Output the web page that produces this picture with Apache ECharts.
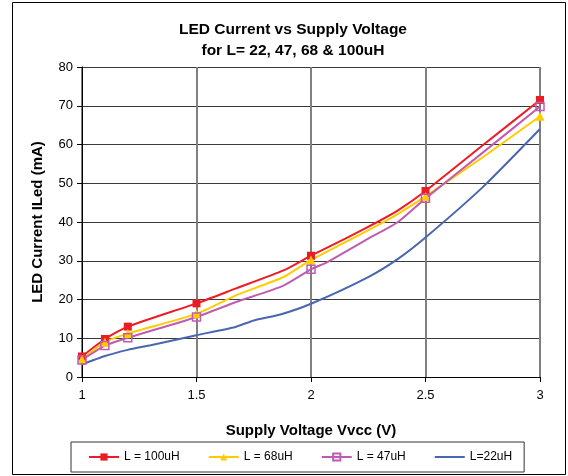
<!DOCTYPE html>
<html>
<head>
<meta charset="utf-8">
<script src="https://cdn.jsdelivr.net/npm/echarts@6/dist/echarts.min.js"></script>
<style>
  html, body { margin: 0; padding: 0; background: #fff; }
  #chart { width: 568px; height: 476px; }
</style>
</head>
<body>
<div id="chart"></div>
<script>
// values (V, mA)
const markerVolts = [1, 1.1, 1.2, 1.5, 2, 2.5, 3];

const volts100 = [1, 1.1, 1.2, 1.5, 1.67, 1.88, 2, 2.15, 2.29, 2.38, 2.5, 2.75, 3];
const ma100 = [5.3, 9.8, 13.0, 19.0, 22.8, 27.5, 31.3, 35.7, 40.0, 43.0, 48.0, 59.8, 71.5];

const volts68 = [1, 1.1, 1.2, 1.5, 1.67, 1.88, 2, 2.15, 2.29, 2.38, 2.5, 2.75, 3];
const ma68 = [4.6, 9.0, 11.2, 16.3, 21.0, 25.8, 30.2, 34.8, 39.1, 42.1, 46.6, 56.7, 67.3];

const volts47 = [1, 1.1, 1.2, 1.5, 1.67, 1.88, 2, 2.07, 2.25, 2.38, 2.5, 2.75, 3];
const ma47 = [4.4, 8.1, 10.1, 15.5, 19.3, 23.6, 27.8, 29.6, 35.7, 40.0, 46.1, 57.9, 69.8];

const volts22 = [1, 1.1, 1.2, 1.3, 1.4, 1.5, 1.67, 1.75, 1.87, 2, 2.25, 2.38, 2.5, 2.75, 3];
const ma22 = [3.2, 5.4, 7.0, 8.2, 9.5, 10.8, 12.9, 14.6, 16.2, 18.9, 25.8, 30.5, 36.0, 49.0, 64.0];

const seriesNames = ['L = 100uH', 'L = 68uH', 'L = 47uH', 'L=22uH'];

function points(volts, ma) {
    return volts.map((v, i) => {
        const item = { value: [v, ma[i]] };
        if (markerVolts.indexOf(v) < 0) item.symbol = 'none';
        return item;
    });
}

let chart = echarts.init(document.getElementById('chart'));

const font = 'Liberation Sans, Arial, sans-serif';

const option = {
    animation: false,
    backgroundColor: '#fff',
    textStyle: { fontFamily: font },
    title: {
        text: 'LED Current vs Supply Voltage\nfor L= 22, 47, 68 & 100uH',
        left: 293,
        top: 19,
        padding: 0,
        textAlign: 'center',
        textStyle: { fontFamily: font, fontSize: 15.5, fontWeight: 'bold', color: '#000', lineHeight: 21 }
    },
    graphic: [{
        type: 'rect',
        shape: { x: 12.5, y: 2.5, width: 553, height: 472 },
        style: { fill: 'none', stroke: '#000', lineWidth: 1 },
        silent: true
    }],
    legend: {
        data: [
            seriesNames[0],
            seriesNames[1],
            seriesNames[2],
            { name: seriesNames[3], itemStyle: { opacity: 0 } }
        ],
        left: 71,
        top: 442,
        padding: [9, 12, 9, 17],
        itemGap: 28,
        itemWidth: 30,
        itemHeight: 9,
        borderColor: '#333',
        borderWidth: 1,
        textStyle: { fontFamily: font, fontSize: 12, color: '#000' }
    },
    grid: {
        left: 82,
        right: 28,
        top: 67,
        bottom: 99
    },
    xAxis: {
        type: 'value',
        min: 1,
        max: 3,
        interval: 0.5,
        name: 'Supply Voltage Vvcc (V)',
        nameLocation: 'middle',
        nameGap: 46,
        nameTextStyle: { fontFamily: font, fontSize: 15, fontWeight: 'bold', color: '#000' },
        axisLine: { lineStyle: { color: '#000', width: 1 } },
        axisTick: { length: 5, lineStyle: { color: '#000' } },
        axisLabel: { margin: 12, fontSize: 13, color: '#000', fontFamily: font },
        splitLine: { show: true, lineStyle: { color: '#808080', width: 2 } }
    },
    yAxis: {
        type: 'value',
        min: 0,
        max: 80,
        interval: 10,
        name: 'LED Current ILed (mA)',
        nameLocation: 'middle',
        nameGap: 37,
        nameTextStyle: { fontFamily: font, fontSize: 15, fontWeight: 'bold', color: '#000' },
        axisLine: { show: true, lineStyle: { color: '#000', width: 1 } },
        axisTick: { show: true, length: 5, lineStyle: { color: '#000' } },
        axisLabel: { margin: 9, fontSize: 13, color: '#000', fontFamily: font },
        splitLine: { show: true, lineStyle: { color: '#3a3a3a', width: 1 } }
    },
    series: [
        {
            name: seriesNames[0],
            type: 'line',
            smooth: 0.2,
            symbol: 'rect',
            symbolSize: 8,
            lineStyle: { color: '#ED1C24', width: 2 },
            itemStyle: { color: '#ED1C24' },
            data: points(volts100, ma100)
        },
        {
            name: seriesNames[1],
            type: 'line',
            smooth: 0.2,
            symbol: 'triangle',
            symbolSize: 9,
            lineStyle: { color: '#FFCC00', width: 2 },
            itemStyle: { color: '#FFCC00' },
            data: points(volts68, ma68)
        },
        {
            name: seriesNames[2],
            type: 'line',
            smooth: 0.2,
            symbol: 'rect',
            symbolSize: 8,
            lineStyle: { color: '#C05CB0', width: 2 },
            itemStyle: { color: 'rgba(0,0,0,0)', borderColor: '#C05CB0', borderWidth: 1.5 },
            data: points(volts47, ma47)
        },
        {
            name: seriesNames[3],
            type: 'line',
            smooth: 0.2,
            symbol: 'none',
            showSymbol: false,
            lineStyle: { color: '#4A66B0', width: 2 },
            itemStyle: { color: '#4A66B0' },
            data: points(volts22, ma22)
        }
    ]
};

chart.setOption(option);
</script>
</body>
</html>
